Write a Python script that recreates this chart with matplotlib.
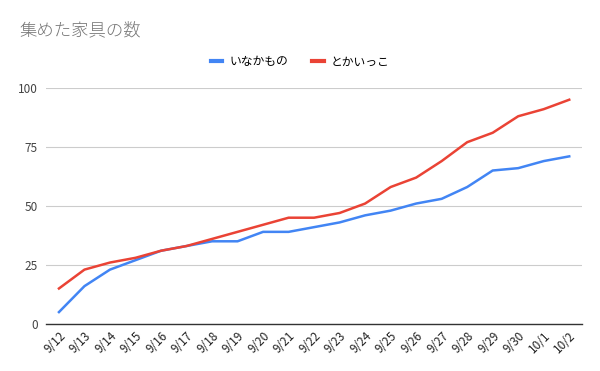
import matplotlib
matplotlib.use('Agg')
import matplotlib.pyplot as plt

plt.rcParams['font.family'] = ['Noto Sans CJK JP', 'DejaVu Sans']

dates = ['9/12', '9/13', '9/14', '9/15', '9/16', '9/17', '9/18', '9/19', '9/20', '9/21',
         '9/22', '9/23', '9/24', '9/25', '9/26', '9/27', '9/28', '9/29', '9/30', '10/1', '10/2']
inaka = [5, 16, 23, 27, 31, 33, 35, 35, 39, 39, 41, 43, 46, 48, 51, 53, 58, 65, 66, 69, 71]
tokai = [15, 23, 26, 28, 31, 33, 36, 39, 42, 45, 45, 47, 51, 58, 62, 69, 77, 81, 88, 91, 95]
yticks = [0, 25, 50, 75, 100]

fig = plt.figure(figsize=(6, 3.71), dpi=100)
ax = fig.add_axes([0.077, 0.127, 0.893, 0.636])

x = range(len(dates))
ax.plot(x, inaka, color='#4285F4', lw=1.8, label='いなかもの')
ax.plot(x, tokai, color='#EA4335', lw=1.8, label='とかいっこ')

ax.set_xlim(-0.5, len(dates) - 0.5)
ax.set_ylim(0, 100)
ax.set_yticks(yticks)
ax.set_xticks(list(x))
ax.set_xticklabels(dates, rotation=45, ha='right', rotation_mode='anchor', fontsize=8.5, color='#222222')
ax.tick_params(axis='y', length=0, labelsize=8.5, labelcolor='#444444', pad=6)
ax.tick_params(axis='x', length=0, pad=4)
ax.grid(axis='y', color='#cccccc', lw=0.8)
ax.set_axisbelow(True)
for s in ['top', 'right', 'left']:
    ax.spines[s].set_visible(False)
ax.spines['bottom'].set_color('#333333')
ax.spines['bottom'].set_linewidth(1)

fig.text(0.033, 0.915, '集めた家具の数', fontsize=12.5, color='#757575', va='center',
         fontweight='light')
fig.legend(loc='center', bbox_to_anchor=(0.5, 0.833), ncol=2, frameon=False,
           fontsize=8.5, handlelength=1.0, handletextpad=0.6, columnspacing=2.0)
for line in fig.legends[0].get_lines():
    line.set_linewidth(3)

fig.savefig('out.png', dpi=100, facecolor='white')
